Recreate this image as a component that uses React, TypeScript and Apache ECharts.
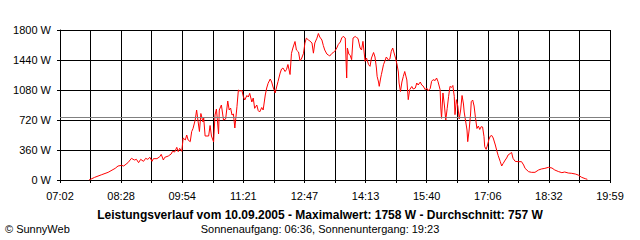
import React, { useEffect, useRef } from "react";
import * as echarts from "echarts";

// Time of day in minutes (e.g. 463 = 07:43) and measured power in W
const times: number[] = [
  463, 471, 481, 490, 500, 504, 509, 512, 518, 523, 527, 530, 533, 536, 540, 543, 546, 549, 552, 554,
  559, 563, 565, 568, 570, 575, 579, 581, 584, 587, 589, 591, 594, 596, 599, 601, 603, 606, 608, 610,
  613, 615, 617, 619, 621, 624, 625, 627, 632, 634, 636, 639, 641, 643, 646, 647, 650, 653, 656, 659,
  661, 663, 665, 667, 669, 672, 674, 676, 679, 681, 683, 686, 688, 690, 693, 695, 697, 700, 702, 704,
  707, 709, 712, 714, 716, 719, 721, 723, 726, 728, 730, 733, 735, 737, 740, 742, 744, 747, 749, 751,
  754, 756, 759, 761, 763, 766, 768, 770, 773, 775, 778, 780, 782, 785, 787, 789, 792, 794, 796, 799,
  801, 803, 806, 808, 810, 813, 815, 818, 820, 822, 825, 827, 828, 830, 832, 834, 836, 839, 841, 843,
  846, 848, 850, 853, 855, 858, 860, 862, 865, 867, 869, 870, 872, 873, 875, 876, 879, 881, 883, 886,
  888, 890, 892, 894, 896, 898, 900, 901, 903, 905, 907, 909, 912, 914, 916, 919, 921, 924, 926, 928,
  931, 933, 935, 938, 940, 942, 945, 947, 949, 952, 954, 956, 959, 960, 961, 963, 965, 967, 969, 971,
  973, 975, 977, 979, 980, 982, 984, 986, 988, 990, 992, 993, 995, 997, 998, 1000, 1002, 1003, 1005, 1007,
  1009, 1011, 1013, 1015, 1017, 1019, 1021, 1022, 1024, 1026, 1028, 1030, 1032, 1034, 1037, 1039, 1041, 1044, 1046, 1048,
  1051, 1053, 1055, 1058, 1060, 1062, 1065, 1069, 1074, 1077, 1079, 1084, 1088, 1093, 1098, 1102, 1107, 1112, 1117, 1121,
  1126, 1131, 1135, 1140, 1145, 1150, 1154, 1159, 1164, 1167,
];

const watts: number[] = [
  0, 32, 64, 92, 140, 168, 176, 168, 208, 260, 240, 248, 208, 248, 224, 260, 248, 272, 224, 256,
  256, 280, 308, 240, 272, 288, 312, 344, 336, 392, 340, 380, 344, 504, 480, 540, 480, 460, 580, 620,
  720, 840, 708, 582, 798, 696, 744, 528, 528, 654, 528, 456, 780, 852, 552, 840, 900, 720, 732, 948,
  840, 864, 780, 792, 624, 880, 1080, 1068, 1074, 1002, 960, 1014, 996, 1040, 936, 984, 860, 900, 834, 816,
  870, 840, 1020, 1104, 1160, 1212, 1176, 1116, 1044, 1116, 1182, 1284, 1332, 1344, 1302, 1326, 1386, 1266, 1520, 1584,
  1662, 1560, 1536, 1434, 1452, 1520, 1642, 1702, 1680, 1668, 1644, 1522, 1644, 1702, 1758, 1716, 1680, 1614, 1560, 1512,
  1500, 1488, 1518, 1530, 1542, 1584, 1624, 1656, 1704, 1724, 1704, 1224, 1584, 1512, 1494, 1444, 1704, 1722, 1710, 1698,
  1584, 1560, 1664, 1424, 1464, 1384, 1364, 1464, 1530, 1476, 1344, 1244, 1176, 1124, 1224, 1264, 1384, 1428, 1476, 1440,
  1452, 1544, 1584, 1524, 1464, 1392, 1296, 1164, 1062, 1176, 1242, 1302, 1200, 964, 1084, 1122, 1092, 1104, 1164, 1140,
  1176, 1140, 1128, 1084, 1104, 1072, 1098, 1184, 1204, 1194, 1224, 1182, 1084, 864, 740, 1044, 900, 720, 860, 1004,
  1124, 1110, 1134, 1002, 784, 964, 888, 732, 840, 1014, 912, 816, 708, 600, 460, 600, 792, 940, 960, 888,
  744, 618, 648, 606, 640, 636, 520, 400, 368, 420, 488, 528, 534, 504, 420, 354, 294, 220, 168, 198,
  240, 264, 300, 318, 330, 260, 224, 220, 220, 180, 140, 100, 92, 92, 120, 132, 140, 152, 144, 120,
  102, 88, 96, 84, 80, 72, 60, 32, 16, 8,
];

const xTickLabels: string[] = ["07:02", "08:28", "09:54", "11:21", "12:47", "14:13", "15:40", "17:06", "18:32", "19:59"];
const axisStartMin = 422; // 07:02
const axisEndMin = 1199; // 19:59
const averageW = 757;
const maxW = 1758;

const titleText = `Leistungsverlauf vom 10.09.2005 - Maximalwert: ${maxW} W - Durchschnitt: ${averageW} W`;
const subText = "Sonnenaufgang: 06:36, Sonnenuntergang: 19:23";
const copyText = "\u00A9 SunnyWeb";

export default function App() {
  const ref = useRef<HTMLDivElement>(null);
  useEffect(() => {
    if (!ref.current) return;
    const chart = echarts.init(ref.current, null, { renderer: "svg" });
    const font = "'Liberation Sans', Arial, sans-serif";
    const spanSec = (axisEndMin - axisStartMin) * 60;
    const stepSec = spanSec / 18;
    chart.setOption({
      animation: false,
      backgroundColor: "#ffffff",
      grid: { left: 60, right: 30, top: 30, bottom: 60, containLabel: false, outerBoundsMode: "none" },
      xAxis: {
        type: "value",
        min: 0,
        max: spanSec,
        interval: stepSec,
        axisLine: { show: true, lineStyle: { color: "#000", width: 1 } },
        axisTick: { show: true, length: 3, lineStyle: { color: "#000", width: 1 } },
        splitLine: { show: true, lineStyle: { color: "#000", width: 1 } },
        axisLabel: {
          color: "#000",
          fontSize: 11,
          fontFamily: font,
          margin: 10,
          showMinLabel: true,
          showMaxLabel: true,
          formatter: (v: number) => {
            const k = Math.round(v / stepSec);
            return k % 2 === 0 ? xTickLabels[k / 2] ?? "" : "";
          },
        },
      },
      yAxis: {
        type: "value",
        min: 0,
        max: 1800,
        interval: 360,
        axisLine: { show: true, lineStyle: { color: "#000", width: 1 } },
        axisTick: { show: true, length: 3, lineStyle: { color: "#000", width: 1 } },
        splitLine: { show: true, lineStyle: { color: "#000", width: 1 } },
        axisLabel: {
          color: "#000",
          fontSize: 11,
          fontFamily: font,
          margin: 9,
          formatter: (v: number) => `${Math.round(v)} W`,
        },
      },
      series: [
        {
          type: "line",
          data: times.map((t, i) => [(t - axisStartMin) * 60, watts[i]]),
          showSymbol: false,
          symbol: "none",
          lineStyle: { color: "#ff0000", width: 1 },
          itemStyle: { color: "#ff0000" },
          markLine: {
            silent: true,
            symbol: "none",
            label: { show: false },
            lineStyle: { color: "#808080", type: "solid", width: 1 },
            data: [{ yAxis: averageW }],
          },
          z: 3,
        },
      ],
      graphic: [
        {
          type: "text",
          x: 320,
          y: 215,
          style: { text: titleText, fill: "#000", font: `bold 12px ${font}`, textAlign: "center", textVerticalAlign: "middle" },
        },
        {
          type: "text",
          x: 320,
          y: 229,
          style: { text: subText, fill: "#000", font: `11px ${font}`, textAlign: "center", textVerticalAlign: "middle" },
        },
        {
          type: "text",
          x: 5,
          y: 229,
          style: { text: copyText, fill: "#000", font: `11px ${font}`, textAlign: "left", textVerticalAlign: "middle" },
        },
      ],
    });
    return () => chart.dispose();
  }, []);
  return <div ref={ref} style={{ position: "fixed", left: 0, top: 0, width: 640, height: 240, background: "#fff" }} />;
}
